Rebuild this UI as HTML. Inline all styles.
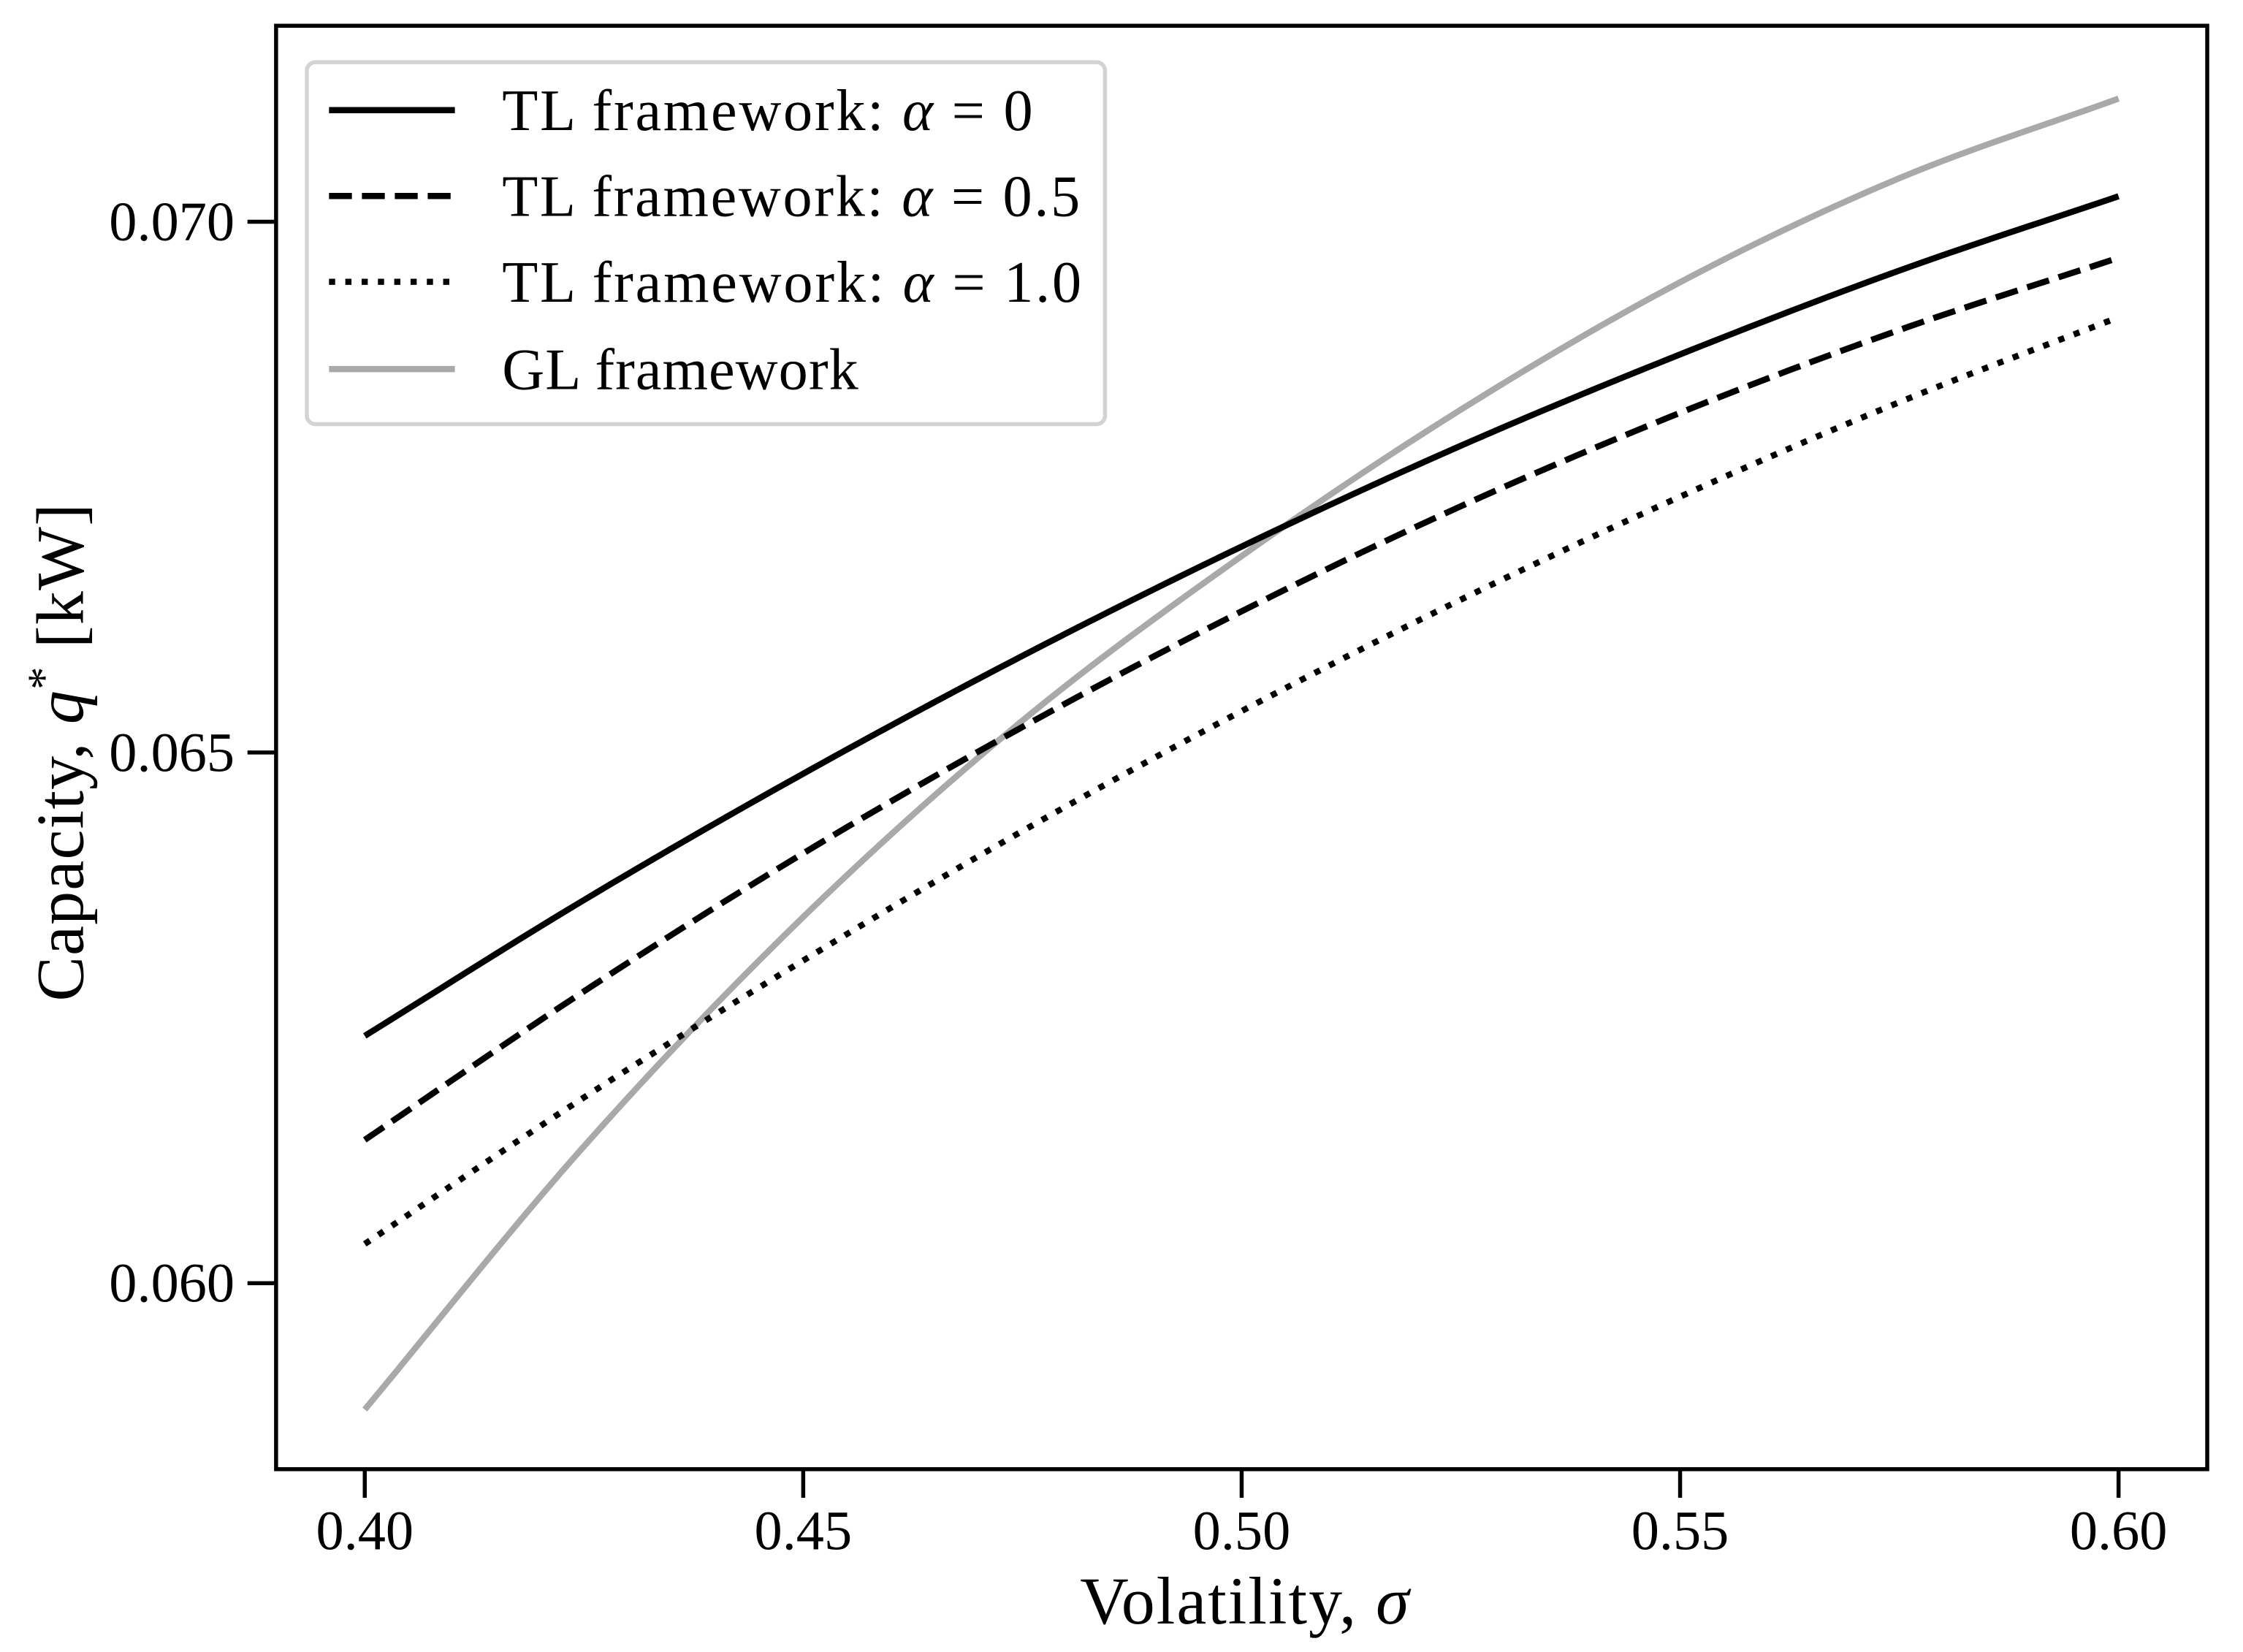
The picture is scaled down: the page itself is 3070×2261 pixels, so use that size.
<!DOCTYPE html>
<html><head><meta charset="utf-8"><style>
html,body{margin:0;padding:0;background:#fff}
svg{display:block}
text{font-family:"Liberation Serif","DejaVu Serif",serif;fill:#000}
</style></head><body>
<svg id="chart" width="3070" height="2261" viewBox="0 0 1568 1154.8">
<rect x="0" y="0" width="1568" height="1155" fill="#fff"/>
<g id="plot"></g>
<rect x="193" y="18" width="1350" height="1009" fill="none" stroke="#000" stroke-width="2.8"/>
<g id="xt"></g>
<g id="yt"></g>
<text x="870" y="1135" font-size="47" text-anchor="middle" textLength="230">Volatility, <tspan font-style="italic">σ</tspan></text>
<text transform="translate(58,526) rotate(-90)" font-size="47" text-anchor="middle" textLength="348">Capacity, <tspan font-style="italic">q</tspan><tspan dy="-17" font-size="32">*</tspan><tspan dy="17"> [kW]</tspan></text>
<g>
<rect x="214.5" y="43.5" width="558" height="253" rx="6" fill="#fff" fill-opacity="0.8" stroke="#d3d3d3" stroke-width="2.8"/>
<line x1="230" y1="77" x2="318" y2="77" stroke="#000" stroke-width="4.3"/>
<text x="351" y="91" font-size="41" textLength="371">TL framework: <tspan font-style="italic">α</tspan> = 0</text>
<line x1="230" y1="137" x2="318" y2="137" stroke="#000" stroke-width="4.3" stroke-dasharray="16,7"/>
<text x="351" y="151" font-size="41" textLength="404">TL framework: <tspan font-style="italic">α</tspan> = 0.5</text>
<line x1="230" y1="197" x2="318" y2="197" stroke="#000" stroke-width="4.3" stroke-dasharray="4.3,7.1"/>
<text x="351" y="211" font-size="41" textLength="405">TL framework: <tspan font-style="italic">α</tspan> = 1.0</text>
<line x1="230" y1="258" x2="318" y2="258" stroke="#a9a9a9" stroke-width="4.3"/>
<text x="351" y="272" font-size="41" textLength="249">GL framework</text>
</g>
</svg>
<script>
const sigma = [0.40, 0.425, 0.45, 0.475, 0.50, 0.525, 0.55, 0.575, 0.60];
const tlAlpha0 = [0.06233, 0.06361, 0.06480, 0.06591, 0.06694, 0.06789, 0.06875, 0.06954, 0.07024];
const tlAlpha05 = [0.06135, 0.06275, 0.06405, 0.06524, 0.06633, 0.06732, 0.06820, 0.06898, 0.06966];
const tlAlpha1 = [0.06037, 0.06175, 0.06304, 0.06426, 0.06539, 0.06644, 0.06741, 0.06830, 0.06910];
const glFramework = [0.05881, 0.06129, 0.06345, 0.06530, 0.06685, 0.06823, 0.06943, 0.07041, 0.07116];
const xTicks = [0.40, 0.45, 0.50, 0.55, 0.60];
const xTickLabels = ["0.40", "0.45", "0.50", "0.55", "0.60"];
const yTicks = [0.060, 0.065, 0.070];
const yTickLabels = ["0.060", "0.065", "0.070"];

const NS = "http://www.w3.org/2000/svg";
function xs(v){ return 255 + (v - 0.40) * (1481 - 255) / 0.20; }
function ys(v){ return 155 + (0.070 - v) * (897 - 155) / 0.010; }
function mk(tag, attrs, parent){
  const e = document.createElementNS(NS, tag);
  for (const k in attrs) e.setAttribute(k, attrs[k]);
  parent.appendChild(e);
  return e;
}
function pathD(xv, yv){
  const n = xv.length, d = [], m = new Array(n);
  for (let i=0;i<n-1;i++) d.push((yv[i+1]-yv[i])/(xv[i+1]-xv[i]));
  m[0] = d[0]; m[n-1] = d[n-2];
  for (let i=1;i<n-1;i++){
    const h0 = xv[i]-xv[i-1], h1 = xv[i+1]-xv[i];
    m[i] = (d[i-1]*d[i] <= 0) ? 0 : (h0*d[i] + h1*d[i-1])/(h0+h1);
  }
  let s = "";
  for (let i=0;i<n-1;i++){
    const h = xv[i+1]-xv[i];
    for (let k=0;k<=20;k++){
      if (i>0 && k===0) continue;
      const t = k/20, t2=t*t, t3=t2*t;
      const y = (2*t3-3*t2+1)*yv[i] + (t3-2*t2+t)*h*m[i] + (-2*t3+3*t2)*yv[i+1] + (t3-t2)*h*m[i+1];
      const x = xv[i] + t*h;
      s += (s ? " L" : "M") + xs(x).toFixed(2) + "," + ys(y).toFixed(2);
    }
  }
  return s;
}
const plot = document.getElementById("plot");
const series = [
  {v: glFramework, c: "#a9a9a9", dash: "", n: "line-gl-framework"},
  {v: tlAlpha0, c: "#000", dash: "", n: "line-tl-alpha0"},
  {v: tlAlpha05, c: "#000", dash: "16,7", n: "line-tl-alpha05"},
  {v: tlAlpha1, c: "#000", dash: "4.3,7.1", n: "line-tl-alpha1"}
];
series.forEach(s=>{
  const el = mk("path", {d: pathD(sigma, s.v), fill: "none", stroke: s.c, "stroke-width": 4.3, "stroke-linejoin": "round"}, plot);
  if (s.dash) el.setAttribute("stroke-dasharray", s.dash);
  
  
});
const xt = document.getElementById("xt");
xTicks.forEach((t,i)=>{
  const l = mk("line", {x1: xs(t), x2: xs(t), y1: 1027, y2: 1047, stroke: "#000", "stroke-width": 2.8}, xt);
  
  
  const tx = mk("text", {x: xs(t), y: 1083, "font-size": 39, "text-anchor": "middle"}, xt);
  tx.textContent = xTickLabels[i];
  
  
});
const yt = document.getElementById("yt");
yTicks.forEach((t,i)=>{
  const l = mk("line", {x1: 173, x2: 193, y1: ys(t), y2: ys(t), stroke: "#000", "stroke-width": 2.8}, yt);
  
  
  const tx = mk("text", {x: 164, y: ys(t) + 13, "font-size": 39, "text-anchor": "end"}, yt);
  tx.textContent = yTickLabels[i];
  
  
});
</script>
</body></html>
